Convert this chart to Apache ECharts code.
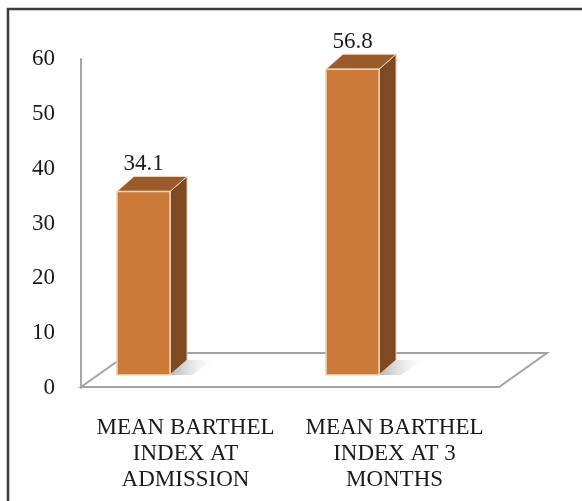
<!DOCTYPE html>
<html lang="en">
<head>
    <meta charset="UTF-8">
    <title>Mean Barthel Index</title>
    <script src="https://cdn.jsdelivr.net/npm/echarts@6/dist/echarts.min.js"></script>
</head>
<body style="margin: 0">
<div id="main" style="width: 582px;height: 501px"></div>
<script>
    // chart data
    const categories = ['MEAN BARTHEL\nINDEX AT\nADMISSION', 'MEAN BARTHEL\nINDEX AT 3\nMONTHS'];
    const values = [34.1, 56.8];
    const yTicks = [0, 10, 20, 30, 40, 50, 60];

    const serif = "'Liberation Serif', 'Times New Roman', serif";
    const depth = [17, -15];      // bar box depth
    const floorDepth = [48, -34]; // floor depth

    const chartDom = document.getElementById('main');
    const myChart = echarts.init(chartDom);

    function renderFloor(params, api) {
        const cs = params.coordSys;
        const x0 = cs.x, x1 = cs.x + cs.width, y = cs.y + cs.height - 1;
        return {
            type: 'polygon',
            shape: {
                points: [[x0, y], [x0 + floorDepth[0], y + floorDepth[1]],
                    [x1 + floorDepth[0], y + floorDepth[1]], [x1, y]]
            },
            style: {fill: '#ffffff', stroke: '#a3a3a3', lineWidth: 2}
        };
    }

    function renderBar(params, api) {
        const i = api.value(0);
        const v = api.value(1);
        const topPt = api.coord([i, v]);
        const basePt = api.coord([i, 0]);
        const w = api.size([1, 0])[0] * 0.254;
        const x0 = topPt[0] - w / 2, x1 = topPt[0] + w / 2;
        const top = topPt[1], bottom = basePt[1];
        const dx = depth[0], dy = depth[1];
        return {
            type: 'group',
            children: [
                {
                    type: 'polygon',
                    shape: {points: [[x1, bottom], [x1 + dx, bottom + dy], [x1 + dx + 26, bottom + dy], [x1 + 22, bottom]]},
                    style: {
                        fill: new echarts.graphic.LinearGradient(0, 0, 1, 0, [
                            {offset: 0, color: 'rgba(120,120,120,0.55)'},
                            {offset: 1, color: 'rgba(200,200,200,0)'}
                        ])
                    }
                },
                {
                    type: 'polygon',
                    shape: {points: [[x1, top], [x1 + dx, top + dy], [x1 + dx, bottom + dy], [x1, bottom]]},
                    style: {fill: '#7f4a22', stroke: '#e9cdb2', lineWidth: 1}
                },
                {
                    type: 'polygon',
                    shape: {points: [[x0, top], [x0 + dx, top + dy], [x1 + dx, top + dy], [x1, top]]},
                    style: {fill: '#9a5a2a', stroke: '#eed6c0', lineWidth: 1}
                },
                {
                    type: 'rect',
                    shape: {x: x0, y: top, width: w, height: bottom - top},
                    style: {fill: '#cc7a3a', stroke: '#f1d6bd', lineWidth: 1.5}
                },
                {
                    type: 'text',
                    x: topPt[0],
                    y: top + dy - 1,
                    style: {
                        text: String(v),
                        fill: '#1a1a1a',
                        font: '23px ' + serif,
                        textAlign: 'center',
                        textVerticalAlign: 'bottom'
                    }
                }
            ]
        };
    }

    let option = {
        animation: false,
        backgroundColor: '#ffffff',
        graphic: [{
            type: 'rect',
            shape: {x: 8, y: 9, width: 620, height: 560},
            style: {fill: 'none', stroke: '#3c3c3c', lineWidth: 2.5},
            z: 100
        }],
        grid: [
            {left: 81, right: 83, top: 59, bottom: 113},
            {left: 39, right: 125, top: 52, bottom: 126}
        ],
        xAxis: [
            {
                type: 'category',
                gridIndex: 0,
                data: categories,
                axisLine: {show: false},
                axisTick: {show: false},
                axisLabel: {
                    interval: 0,
                    margin: 27,
                    fontFamily: serif,
                    fontSize: 23,
                    lineHeight: 26,
                    color: '#1a1a1a'
                }
            },
            {
                type: 'category',
                gridIndex: 1,
                data: categories,
                show: false
            }
        ],
        yAxis: [
            {
                type: 'value',
                gridIndex: 0,
                min: yTicks[0],
                max: yTicks[yTicks.length - 1],
                interval: yTicks[1] - yTicks[0],
                splitLine: {show: false},
                axisTick: {show: false},
                axisLine: {show: true, lineStyle: {color: '#a6a6a6', width: 2}},
                axisLabel: {
                    margin: 26,
                    fontFamily: serif,
                    fontSize: 23,
                    color: '#1a1a1a'
                }
            },
            {
                type: 'value',
                gridIndex: 1,
                min: yTicks[0],
                max: yTicks[yTicks.length - 1],
                show: false
            }
        ],
        series: [
            {
                type: 'custom',
                xAxisIndex: 0,
                yAxisIndex: 0,
                renderItem: renderFloor,
                data: [[0, 0]],
                clip: false,
                silent: true,
                z: 1
            },
            {
                type: 'custom',
                xAxisIndex: 1,
                yAxisIndex: 1,
                renderItem: renderBar,
                encode: {x: 0, y: 1},
                data: values.map((v, i) => [i, v]),
                clip: false,
                z: 2
            }
        ]
    };

    option && myChart.setOption(option);
</script>
</body>
</html>
